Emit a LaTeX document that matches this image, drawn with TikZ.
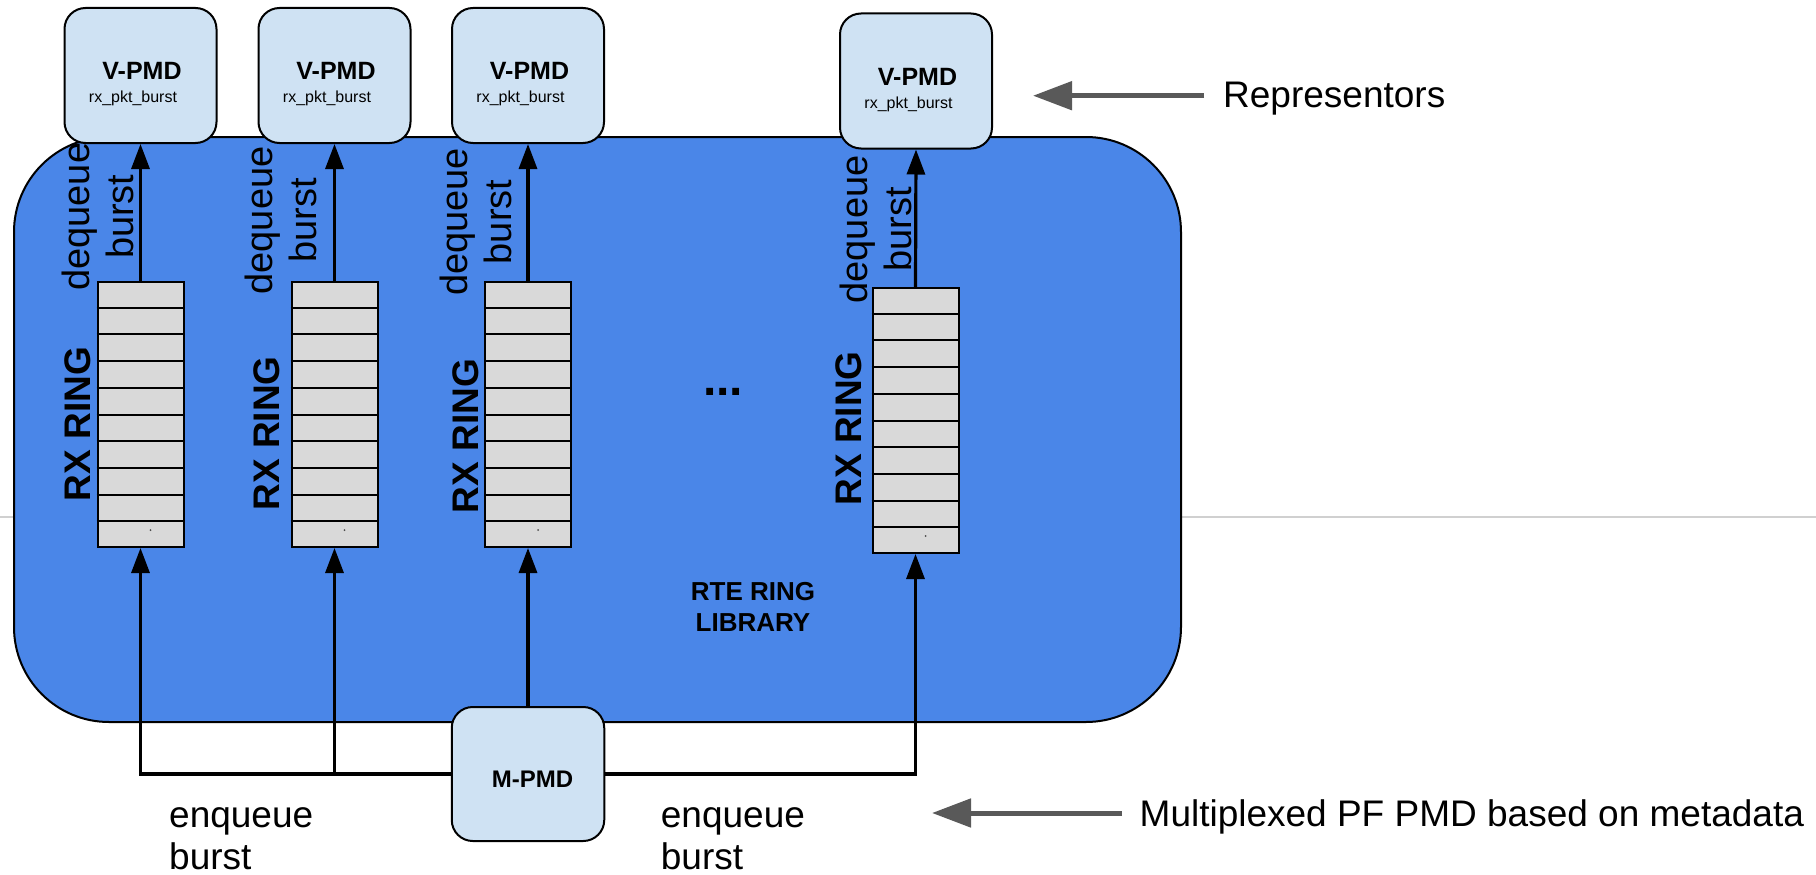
\documentclass[tikz,border=0pt]{standalone}
\usepackage{fontspec}
\setmainfont{Liberation Sans}
\usetikzlibrary{arrows.meta,calc}

\definecolor{libblue}{HTML}{4A86E8}
\definecolor{pmdfill}{HTML}{CFE2F3}
\definecolor{slotfill}{HTML}{D9D9D9}
\definecolor{pointergray}{HTML}{595959}
\definecolor{guidegray}{HTML}{D0D0D0}

\newcommand\fsz[2]{\fontsize{#1}{#2}\selectfont}

\begin{document}
\begin{tikzpicture}[x=1pt,y=-1pt,
  pmdbox/.style={draw=black, line width=2pt, fill=pmdfill, rounded corners=21pt,
    minimum width=152pt, minimum height=135pt, inner sep=0pt},
  ringbox/.style={draw=black, line width=2pt, fill=slotfill,
    minimum width=86pt, minimum height=265pt, inner sep=0pt},
  slotline/.style={draw=black, line width=2pt},
  libbox/.style={draw=black, line width=2pt, fill=libblue, rounded corners=95pt,
    minimum width=1167pt, minimum height=585pt, inner sep=0pt},
  flow/.style={line width=3.2pt, -{Triangle[length=25pt,width=18pt]}},
  pointer/.style={draw=pointergray, line width=5pt, -{Triangle[length=39pt,width=28pt]}},
  guide/.style={draw=guidegray, line width=1.5pt},
  title/.style={font=\fsz{25}{29}\bfseries, inner sep=0pt, anchor=base},
  subtitle/.style={font=\fsz{16}{18}, inner sep=0pt, anchor=base},
  ringlabel/.style={font=\fsz{37}{42}\bfseries, inner sep=0pt, rotate=90},
  flowlabel/.style={font=\fsz{38}{44}, inner sep=0pt, align=center, rotate=90, anchor=base},
  sidelabel/.style={font=\fsz{37}{42.5}, inner sep=0pt, align=left, anchor=base west},
]
\useasboundingbox (0,0) rectangle (1816,875);

% faint horizontal guide running behind everything
\coordinate (gl) at (0,517);
\coordinate (gr) at (1816,517);
\draw[guide] (gl) -- (gr);

% ring library container
\node[libbox] (lib) at (597.5,429.5) {};
\node[font=\fsz{26}{31.7}\bfseries, align=center, inner sep=0pt, anchor=base]
  (libname) at (753,631.7) {RTE RING\\LIBRARY};

% receive rings, ten slots each
\foreach \i/\x/\y in {1/140.5/414.5, 2/334.5/414.5, 3/528/414.5, 4/915.5/420.5} {
  \node[ringbox] (r\i) at (\x,\y) {};
  \foreach \k in {1,...,9}
    \draw[slotline] ($(r\i.north west)!\k/10!(r\i.south west)$) --
                    ($(r\i.north east)!\k/10!(r\i.south east)$);
  \fill[black!70] ($(r\i.south)+(10,-18)$) circle (1pt);
}

% ring captions
\node[ringlabel] (rl1) at (78,424) {RX RING};
\node[ringlabel] (rl2) at (267,433.5) {RX RING};
\node[ringlabel] (rl3) at (465.5,436) {RX RING};
\node[ringlabel] (rl4) at (848.6,428.5) {RX RING};

\node[font=\fsz{48}{50}\bfseries, inner sep=0pt, anchor=base] (more) at (723,395.5) {...};

% dequeue captions
\node[flowlabel] (dq1) at (133.3,216.7) {dequeue\\burst};
\node[flowlabel] (dq2) at (316.7,220.5) {dequeue\\burst};
\node[flowlabel] (dq3) at (511,222) {dequeue\\burst};
\node[flowlabel] (dq4) at (911.5,229.5) {dequeue\\burst};

% representor PMDs
\foreach \i/\x/\y in {1/140.5/75.5, 2/334.5/75.5, 3/528/75.5, 4/916/81} {
  \node[pmdbox] (v\i) at (\x,\y) {};
  \node[title] (vt\i) at ($(v\i.center)+(1.5,4)$) {V-PMD};
  \node[subtitle] (vs\i) at ($(v\i.center)+(-7.5,27)$) {rx\_pkt\_burst};
  \draw[flow] (r\i.north) -- (v\i.south);
}

% multiplexed PMD feeding every ring
\node[pmdbox, minimum width=152.5pt, minimum height=134pt] (mpmd) at (528,774) {};
\node[font=\fsz{24}{28}\bfseries, inner sep=0pt, anchor=base] (mt) at ($(mpmd.center)+(4.5,13.5)$) {M-PMD};
\draw[flow] (mpmd.west) -| (r1.south);
\draw[flow] (mpmd.west) -| (r2.south);
\draw[flow] (mpmd.north) -- (r3.south);
\draw[flow] (mpmd.east) -| (r4.south);

\node[sidelabel] (enq1) at (169,869.5) {enqueue\\burst};
\node[sidelabel] (enq2) at (660.7,869.5) {enqueue\\burst};

% side annotations
\node[font=\fsz{37}{42}, inner sep=0pt, anchor=base west] (rep) at (1223,107.3) {Representors};
\coordinate (reptip) at (1033,95.7);
\draw[pointer] ($(rep.west |- reptip)+(-19,0)$) -- (reptip);

\node[font=\fsz{37}{42}, inner sep=0pt, anchor=base west] (mux) at (1139.5,826) {Multiplexed PF PMD based on metadata};
\coordinate (muxtip) at (932,813);
\draw[pointer] ($(mux.west |- muxtip)+(-17.5,0)$) -- (muxtip);
\end{tikzpicture}
\end{document}
